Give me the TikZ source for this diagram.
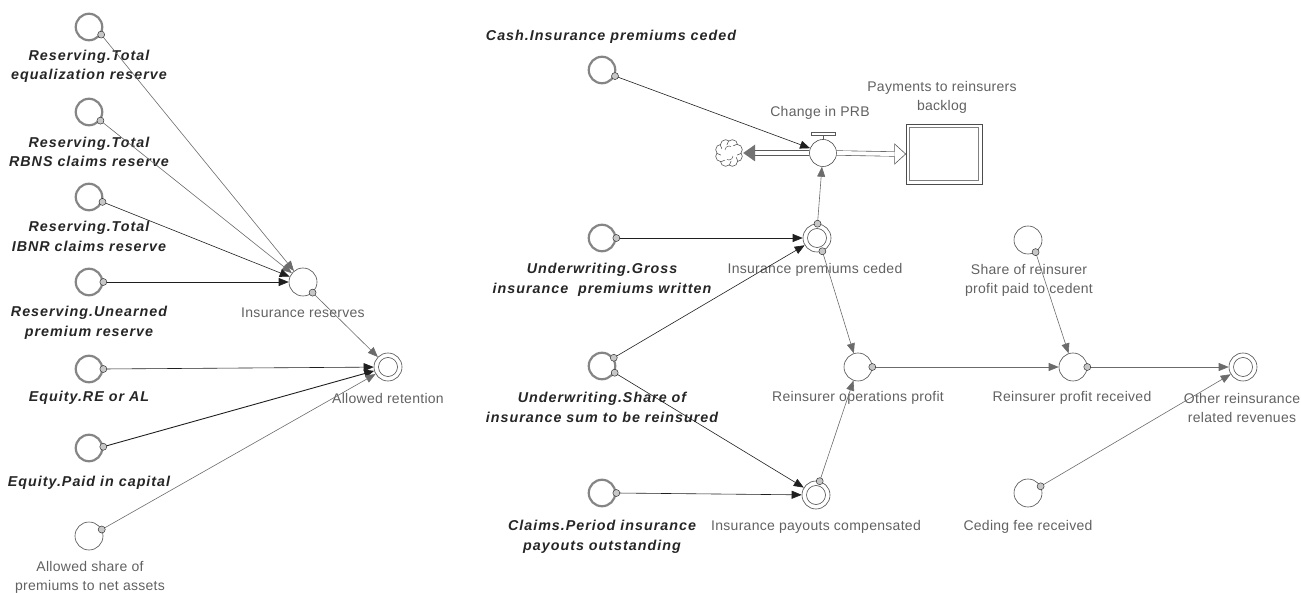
\documentclass[tikz,border=0pt]{standalone}
\usepackage{fontspec}
\setmainfont{Liberation Sans}
\newfontfamily\ghostfont[LetterSpace=7]{Liberation Sans}
\newfontfamily\auxfont[LetterSpace=2]{Liberation Sans}
\usetikzlibrary{arrows.meta}

\begin{document}
\begin{tikzpicture}[x=1pt,y=-1pt,
  aux/.style={circle,draw=black!70,line width=0.6pt,minimum size=28pt,inner sep=0pt,fill=white},
  dbl/.style={aux,path picture={\draw[black!70,line width=0.6pt]
      (path picture bounding box.center) circle[radius=9.5pt];}},
  ghost/.style={circle,draw=black!48,line width=2.2pt,minimum size=26.5pt,inner sep=0pt,fill=white},
  tok/.style={circle,draw=black!80,fill=black!22,line width=0.5pt,minimum size=7pt,inner sep=0pt},
  lab/.style={font=\auxfont\fontsize{14}{19.5}\selectfont,text=black!62,align=center,inner sep=0pt},
  glab/.style={font=\ghostfont\fontsize{14.3}{19.5}\selectfont\bfseries\itshape,text=black!85,align=center,inner sep=0pt},
  lk/.style={draw=black!88,line width=0.6pt,-{Triangle[length=10pt,width=8pt]}},
  lkg/.style={draw=black!58,line width=0.6pt,-{Triangle[length=10pt,width=8pt]}},
  pipe/.style={draw=black!65,line width=0.6pt,double=white,double distance=4pt}]

\useasboundingbox (0,0) rectangle (1301,593);

% ---------- left cluster: insurance reserves and allowed retention ----------
\node[ghost] (c1) at (89,27) {};
\node[ghost] (c2) at (89,112) {};
\node[ghost] (c3) at (89,197) {};
\node[ghost] (c4) at (89,282) {};
\node[ghost] (c5) at (89,369) {};
\node[ghost] (c6) at (89,448) {};
\node[aux]   (c7) at (89,536) {};
\node[aux]   (ir) at (303,282) {};
\node[dbl]   (ar) at (388,367) {};

\node[glab] (l1) at (89,66.5) {Reserving.Total\\equalization reserve};
\node[glab] (l2) at (89,152) {Reserving.Total\\RBNS claims reserve};
\node[glab] (l3) at (89,236.5) {Reserving.Total\\IBNR claims reserve};
\node[glab] (l4) at (89,323) {Reserving.Unearned\\premium reserve};
\node[glab] (l5) at (89,398) {Equity.RE or AL};
\node[glab] (l6) at (89,483) {Equity.Paid in capital};
\node[lab]  (l7) at (90,577.5) {Allowed share of\\premiums to net assets};
\node[lab]  (lir) at (303,313) {Insurance reserves};
\node[lab]  (lar) at (388,398) {Allowed retention};

\draw[lkg] (c1.-32) -- (ir);
\draw[lkg] (c2.-37) -- (ir);
\draw[lk]  (c3.-20) -- (ir);
\draw[lk]  (c4.0)   -- (ir);
\draw[lkg] (ir.-48) -- (ar);
\draw[lk]  (c5.0)   -- (ar);
\draw[lk,line width=0.9pt] (c6.5) -- (ar);
\draw[lkg] (c7.27)  -- (ar);

\foreach \n/\a in {c1/-32,c2/-37,c3/-20,c4/0,ir/-48,c5/0,c6/5,c7/27}
  \node[tok] at (\n.\a) {};

% ---------- right cluster: reinsurance ----------
\node[ghost] (cash)   at (602,70) {};
\node[ghost] (gross)  at (602,238) {};
\node[ghost] (share)  at (602,366) {};
\node[ghost] (claims) at (602,493) {};
\node[dbl]   (ipc)    at (817,238) {};
\node[dbl]   (ipay)   at (816,495) {};
\node[aux]   (rop)    at (858,367) {};
\node[aux]   (srp)    at (1028,240) {};
\node[aux]   (rpr)    at (1073,367) {};
\node[dbl]   (orr)    at (1243,367) {};
\node[aux]   (cfr)    at (1028,493) {};

% flow: cloud <- valve -> stock
\node[circle,minimum size=28pt,inner sep=0pt] (cloud) at (729,153) {};
\foreach \a in {22.5,67.5,...,337.5}
  \draw[black!65,line width=0.6pt,fill=white] (cloud.center) ++(\a:8.6) circle[radius=5.4];
\fill[white] (cloud.center) circle[radius=8.3];
\draw[black!65,line width=0.5pt] (cloud.center) ++(-4,-3) arc[start angle=180,end angle=300,radius=4]
  (cloud.center) ++(4,3) arc[start angle=0,end angle=120,radius=4];

\node[draw=black!70,line width=0.7pt,minimum width=76pt,minimum height=60pt,
      inner sep=0pt] (stock) at (944,154) {};
\draw[black!50,line width=0.8pt] ([shift={(4,4)}]stock.north west)
  rectangle ([shift={(-4,-4)}]stock.south east);
\node[aux,minimum size=27pt] (valve) at (823,153) {};
\draw[black!65,line width=0.6pt] (valve.north) -- ++(0,-5) coordinate (stem);
\draw[black!65,line width=0.6pt,fill=white] ([xshift=-12pt,yshift=1.5pt]stem) rectangle ([xshift=12pt,yshift=-1.5pt]stem);

\draw[pipe] (valve.west) -- ([xshift=12pt]cloud.east);
\fill[black!55] (cloud.east) -- ++(12,-8.5) -- ++(0,17) -- cycle;
\draw[pipe] (valve.east) -- ([xshift=-11pt]stock.west);
\draw[black!65,line width=0.6pt,line join=miter]
  (stock.west) -- ++(-11,-10) -- ++(0,7.6);
\draw[black!65,line width=0.6pt,line join=miter]
  (stock.west) -- ++(-11,10) -- ++(0,-7.6);

\node[glab] (lcash)  at (611,37) {Cash.Insurance premiums ceded};
\node[lab]  (lvalve) at (820,113) {Change in PRB};
\node[lab]  (lstock) at (942,97.5) {Payments to reinsurers\\backlog};
\node[glab] (lgross) at (602,280) {Underwriting.Gross\\insurance\ \ premiums written};
\node[glab] (lshare) at (602,407.5) {Underwriting.Share of\\insurance sum to be reinsured};
\node[glab] (lclaim) at (602,537) {Claims.Period insurance\\payouts outstanding};
\node[lab]  (lipc)   at (815,270) {Insurance premiums ceded};
\node[lab]  (lipay)  at (816,527) {Insurance payouts compensated};
\node[lab]  (lrop)   at (858,398) {Reinsurer operations profit};
\node[lab]  (lsrp)   at (1029,280.5) {Share of reinsurer\\profit paid to cedent};
\node[lab]  (lrpr)   at (1072,398) {Reinsurer profit received};
\node[lab]  (lorr)   at (1242,408) {Other reinsurance\\related revenues};
\node[lab]  (lcfr)   at (1028,527) {Ceding fee received};

\draw[lk]  (cash.-25)   -- (valve);
\draw[lkg] (ipc.88)     -- (valve);
\draw[lk]  (gross.0)    -- (ipc);
\draw[lk]  (share.35)   -- (ipc);
\draw[lk]  (share.-28)  -- (ipay);
\draw[lk]  (claims.0)   -- (ipay);
\draw[lkg] (ipc.-68)    -- (rop);
\draw[lkg] (ipay.75)    -- (rop);
\draw[lkg] (rop.0)      -- (rpr);
\draw[lkg] (srp.-58)    -- (rpr);
\draw[lkg] (rpr.0)      -- (orr);
\draw[lkg] (cfr.28)     -- (orr);

\foreach \n/\a in {cash/-25,ipc/88,gross/0,share/35,share/-28,claims/0,
                   ipc/-68,ipay/75,rop/0,srp/-58,rpr/0,cfr/28}
  \node[tok] at (\n.\a) {};

\end{tikzpicture}
\end{document}
